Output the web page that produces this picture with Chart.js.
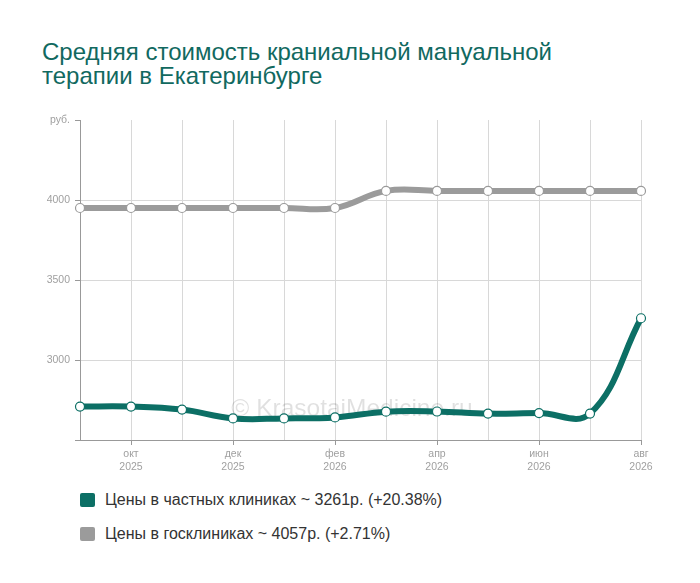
<!DOCTYPE html>
<html><head><meta charset="utf-8">
<script src="https://cdn.jsdelivr.net/npm/chart.js@4"></script>
<style>
html,body{margin:0;padding:0;background:#fff;width:700px;height:583px;overflow:hidden;font-family:'Liberation Sans',Arial,sans-serif;}
#title{position:absolute;left:42px;top:40px;font-size:24px;line-height:24px;color:#11695f;}
#wrap{position:absolute;left:0;top:100px;width:700px;height:370px;}
.leg{position:absolute;left:80px;font-size:16px;color:#333;line-height:20px;}
.leg span.box{position:absolute;left:0;top:3px;width:15px;height:14px;border-radius:2px;}
.leg span.t{position:absolute;left:25px;top:0;white-space:nowrap;}
</style></head>
<body>
<div id="title">Средняя стоимость краниальной мануальной<br>терапии в Екатеринбурге</div>
<div id="wrap"><canvas id="c" width="700" height="370"></canvas></div>
<div class="leg" id="leg1" style="top:490px"><span class="box" style="background:#0c6f65"></span><span class="t"></span></div>
<div class="leg" id="leg2" style="top:524px"><span class="box" style="background:#9b9b9b"></span><span class="t"></span></div>
<script>
const months = ['сен','окт','ноя','дек','янв','фев','мар','апр','май','июн','июл','авг'];
const years  = ['2025','2025','2025','2025','2026','2026','2026','2026','2026','2026','2026','2026'];
const privatePrices = [2709,2709,2690,2635,2635,2641,2677,2678,2665,2668,2665,3261];
const publicPrices  = [3950,3950,3950,3950,3950,3950,4057,4057,4057,4057,4057,4057];
const seriesNames = ['Цены в частных клиниках ~ 3261р. (+20.38%)','Цены в госклиниках ~ 4057р. (+2.71%)'];
const yTicks = [2500,3000,3500,4000,4500];
const unitLabel = 'руб.';
const watermark = '© KrasotaiMedicine.ru';

document.querySelector('#leg1 .t').textContent = seriesNames[0];
document.querySelector('#leg2 .t').textContent = seriesNames[1];

const TEAL = '#0c6f65', GRAY = '#9b9b9b';
const labels = months.map((m,i)=>[m, years[i]]);

const wmPlugin = {
  id:'wm',
  beforeDatasetsDraw(chart){
    const {ctx} = chart;
    ctx.save();
    ctx.font = '24.5px "Liberation Sans", Arial, sans-serif';
    ctx.fillStyle = 'rgba(0,0,0,0.12)';
    ctx.textAlign = 'center';
    ctx.textBaseline = 'middle';
    ctx.fillText(watermark, 352, 309);
    ctx.restore();
  }
};

new Chart(document.getElementById('c'), {
  type:'line',
  data:{
    labels: labels,
    datasets:[
      {data: publicPrices, borderColor: GRAY, borderWidth:6, tension:0.4, fill:false,
       pointRadius:4.5, pointBackgroundColor:'#fff', pointBorderColor:GRAY, pointBorderWidth:1.2},
      {data: privatePrices, borderColor: TEAL, borderWidth:6, tension:0.4, fill:false,
       pointRadius:4.5, pointBackgroundColor:'#fff', pointBorderColor:TEAL, pointBorderWidth:1.2}
    ]
  },
  options:{
    responsive:false, animation:false, devicePixelRatio:1,
    layout:{padding:{top:20,right:59,bottom:0,left:0}},
    plugins:{legend:{display:false}, tooltip:{enabled:false}},
    scales:{
      x:{
        type:'category', offset:false,
        afterFit(s){ s.height = 30; },
        border:{color:'#999', width:1},
        grid:{color:(c)=> c.index===0 ? 'transparent' : '#d8d8d8', drawTicks:true, tickLength:5,
              tickColor:(c)=> (c.index%2===1) ? '#999' : 'transparent'},
        ticks:{autoSkip:false, maxRotation:0, padding:3, color:'#a0a0a0',
               font:{family:'"Liberation Sans", Arial, sans-serif', size:10.5, lineHeight:1.2},
               callback:(v,i)=> (i%2===1) ? labels[i] : ''}
      },
      y:{
        min:2500, max:4500,
        afterFit(s){ s.width = 80; },
        afterBuildTicks(s){ s.ticks = yTicks.map(v=>({value:v})); },
        border:{color:'#999', width:1},
        grid:{color:(c)=> (c.tick && (c.tick.value===4500 || c.tick.value===2500)) ? 'transparent' : '#d8d8d8',
              drawTicks:true, tickLength:5, tickColor:'#999'},
        ticks:{padding:5, color:'#a0a0a0',
               font:{family:'"Liberation Sans", Arial, sans-serif', size:10.5},
               callback:(v)=> v===4500 ? unitLabel : (v===2500 ? '' : String(v))}
      }
    }
  },
  plugins:[wmPlugin]
});
</script>
</body></html>
